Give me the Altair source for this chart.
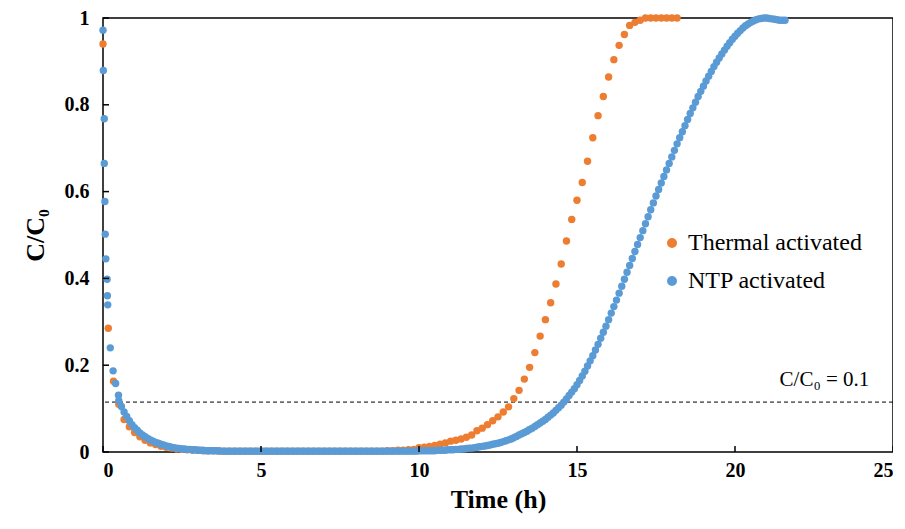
import pandas as pd
import altair as alt

# thermal activated: one sample every 10 min from t=0
thermal_step_h = 1 / 6
thermal = [
    .94, .285, .163, .11, .075, .058,
    .045, .035, .027, .021, .017, .013,
    .011, .009, .007, .006, .005, .004,
    .004, .003, .003, .003, .002, .002,
    .002, .002, .002, .002, .002, .002,
    .002, .002, .002, .002, .002, .002,
    .002, .002, .002, .002, .002, .002,
    .002, .002, .002, .002, .002, .002,
    .002, .002, .002, .002, .002, .002,
    .003, .003, .004, .004, .005, .006,
    .010, .011, .013, .015, .018, .021,
    .025, .027, .030, .034, .039, .049,
    .055, .063, .072, .081, .092, .104,
    .123, .142, .168, .195, .229, .267,
    .305, .344, .387, .433, .486, .536,
    .580, .621, .670, .724, .775, .819,
    .864, .904, .937, .962, .983, .990,
    .995, 1, 1, 1, 1, 1,
    1, 1,
]

# NTP activated: dense first half hour, then one sample every 5 min from t=0.5
ntp_early_t = [0.0, 0.01, 0.04, 0.04, 0.06, 0.07, 0.09, 0.13, 0.14, 0.15, 0.23, 0.32, 0.40, 0.49]
ntp_early = [.972, .879, .768, .665, .577, .502, .445, .398, .360, .339, .240, .187, .158, .131]
ntp_start_h = 0.5
ntp_step_h = 1 / 12
ntp = [
    .118, .105, .092, .082, .072, .063, .056, .050, .044, .039, .035, .031,
    .028, .025, .022, .020, .018, .016, .014, .013, .011, .010, .009, .008,
    .007, .007, .006, .006, .005, .005, .004, .004, .004, .003, .003, .003,
    .003, .003, .003, .002, .002, .002, .002, .002, .002, .002, .002, .002,
    .002, .002, .002, .002, .002, .002, .002, .002, .002, .002, .002, .002,
    .002, .002, .002, .002, .002, .002, .002, .002, .002, .002, .002, .002,
    .002, .002, .002, .002, .002, .002, .002, .002, .002, .002, .002, .002,
    .002, .002, .002, .002, .002, .002, .002, .002, .002, .002, .002, .002,
    .002, .002, .002, .002, .002, .002, .002, .002, .002, .002, .002, .002,
    .002, .002, .002, .002, .002, .002, .003, .003, .003, .003, .003, .003,
    .003, .004, .004, .004, .004, .005, .005, .005, .006, .006, .007, .007,
    .008, .009, .009, .010, .011, .012, .013, .014, .015, .016, .018, .019,
    .020, .022, .024, .026, .028, .030, .033, .036, .039, .042, .045, .048,
    .052, .055, .059, .063, .067, .071, .075, .080, .085, .090, .096, .102,
    .108, .115, .122, .130, .138, .146, .155, .165, .175, .186, .198, .210,
    .222, .235, .248, .262, .276, .290, .305, .320, .335, .350, .366, .382,
    .398, .414, .430, .446, .462, .478, .494, .510, .526, .542, .558, .574,
    .590, .605, .620, .635, .650, .665, .680, .695, .710, .724, .738, .752,
    .766, .780, .793, .806, .819, .831, .843, .855, .866, .877, .888, .898,
    .908, .917, .926, .935, .943, .951, .958, .965, .971, .977, .982, .986,
    .990, .993, .996, .998, .999, 1.0, 1.0, .999, .998, .997, .996, .995,
    .995, .995,
]

series = ["Thermal activated", "NTP activated"]
colors = ["#ED7D31", "#5B9BD5"]
x_ticks = [0, 5, 10, 15, 20, 25]
y_ticks = [0, 0.2, 0.4, 0.6, 0.8, 1]
threshold = 0.115
FONT = "Liberation Serif"
W, H = 790, 434

rows = [{"t": i * thermal_step_h, "c": v, "s": series[0]} for i, v in enumerate(thermal)]
rows += [{"t": t, "c": v, "s": series[1]} for t, v in zip(ntp_early_t, ntp_early)]
rows += [{"t": ntp_start_h + i * ntp_step_h, "c": v, "s": series[1]} for i, v in enumerate(ntp)]
df = pd.DataFrame(rows)
df["o"] = range(len(df))

xs = alt.Scale(domain=[0, 25], nice=False, zero=False)
ys = alt.Scale(domain=[0, 1], nice=False)

pts = alt.Chart(df).mark_circle(size=55, opacity=1).encode(
    x=alt.X("t:Q", scale=xs, title="Time (h)",
            axis=alt.Axis(values=x_ticks, ticks=False, grid=False, labelPadding=8, titlePadding=6)),
    y=alt.Y("c:Q", scale=ys, title="C/C₀",
            axis=alt.Axis(values=y_ticks, ticks=False, grid=False, labelPadding=14, titlePadding=16,
                          labelExpr="datum.value == 0 ? '0' : format(datum.value, '.1~f')")),
    color=alt.Color("s:N", scale=alt.Scale(domain=series, range=colors), title=None,
                    legend=alt.Legend(orient="none", legendX=557, legendY=213, labelFontSize=24,
                                      labelFont=FONT, symbolSize=100, rowPadding=14, symbolType="circle",
                                      labelColor="black", labelLimit=400)),
    order="o:Q",
)

dash = alt.Chart(pd.DataFrame({"y": [threshold]})).mark_rule(
    color="black", strokeDash=[4, 3], strokeWidth=1).encode(y=alt.Y("y:Q", scale=ys))

label = alt.Chart(pd.DataFrame({"x": [24.25], "y": [0.165], "t": ["C/C₀ = 0.1"]})).mark_text(
    align="right", font=FONT, fontSize=21, color="black").encode(
    x=alt.X("x:Q", scale=xs), y=alt.Y("y:Q", scale=ys), text="t:N")

xt = alt.Chart(pd.DataFrame({"x": x_ticks})).mark_rule(color="black", strokeWidth=1.5).encode(
    x=alt.X("x:Q", scale=xs), y=alt.value(H), y2=alt.value(H - 6))
yt = alt.Chart(pd.DataFrame({"y": y_ticks})).mark_rule(color="black", strokeWidth=1.5).encode(
    y=alt.Y("y:Q", scale=ys), x=alt.value(0), x2=alt.value(6))

chart = alt.layer(dash, pts, label, xt, yt).properties(
    width=W, height=H, autosize=alt.AutoSizeParams(type="none"),
    padding={"left": 95, "top": 10, "right": 0, "bottom": 69},
).configure_view(stroke="black", strokeWidth=1.5).configure_axis(
    domain=False, labelFont=FONT, titleFont=FONT, labelFontSize=20, labelFontWeight="bold",
    titleFontSize=26, titleFontWeight="bold", labelColor="black", titleColor="black",
)

chart.save("out.html", embed_options={"renderer": "svg", "actions": False})
